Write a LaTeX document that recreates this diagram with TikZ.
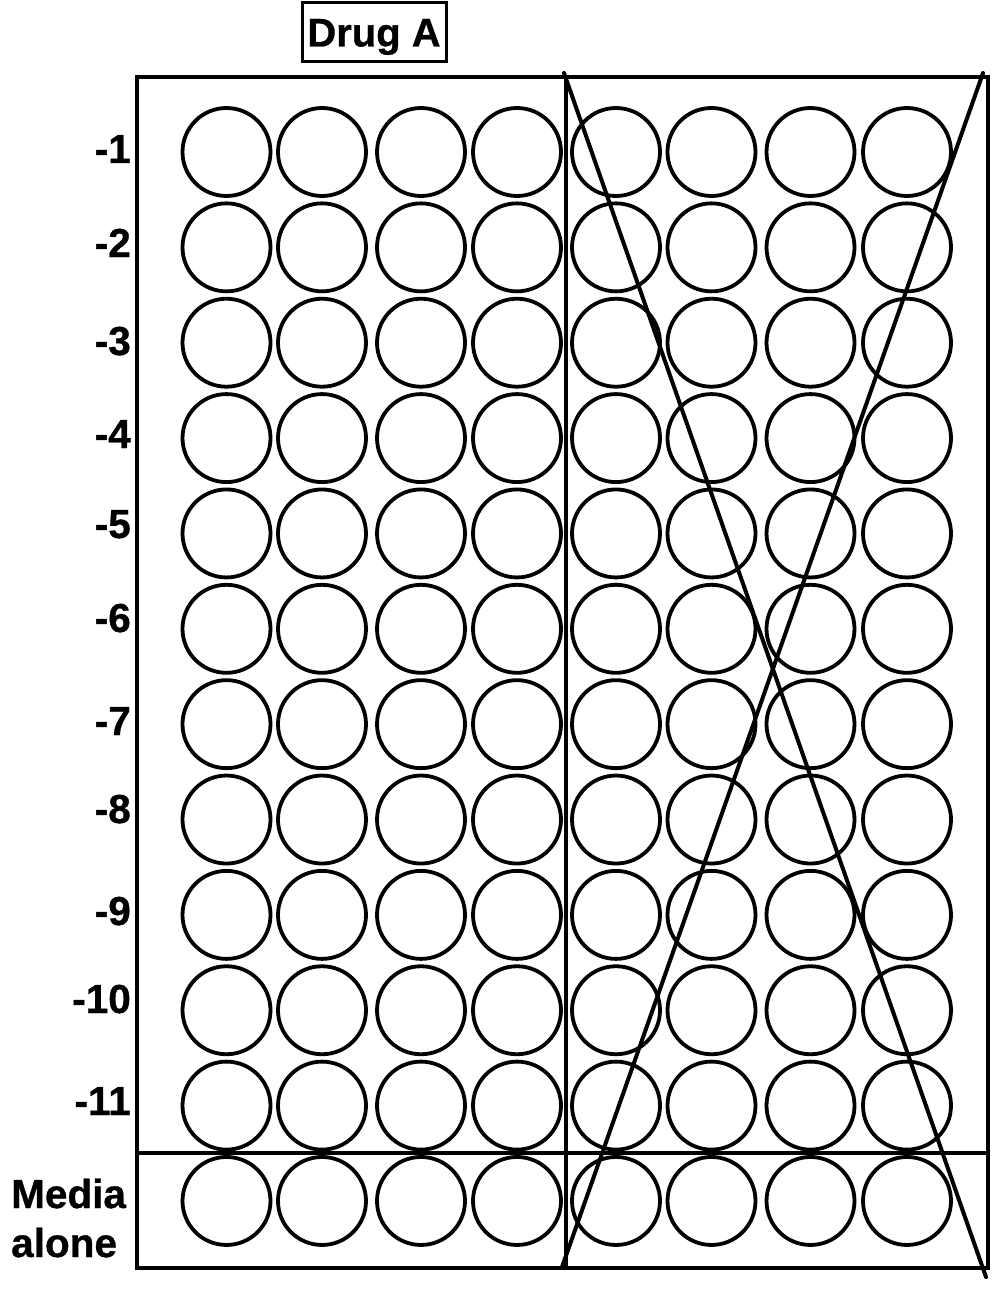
\documentclass[tikz,border=0pt]{standalone}
\usepackage{fontspec}
\setmainfont{Liberation Sans}[BoldFeatures={FakeBold=0.8}]
\begin{document}
\begin{tikzpicture}[x=1pt,y=-1pt,
  well/.style={circle,draw,line width=3.8pt,minimum size=88pt,inner sep=0pt},
  lbl/.style={font=\fontsize{40.5}{48}\selectfont\bfseries,inner sep=0pt,anchor=base east},
  frame/.style={line width=4pt},
  cross/.style={line width=4pt,line cap=round},
  titlebox/.style={draw,line width=3pt,minimum width=144pt,minimum height=59pt,inner sep=0pt,
    text height=28pt,text depth=0pt,font=\fontsize{40}{48}\selectfont\bfseries}]
\useasboundingbox (0,0) rectangle (1000,1289);

% plate outline and dividers
\coordinate (tl) at (137,77);
\coordinate (br) at (988,1268);
\coordinate (vtop) at (566,77);
\coordinate (vbot) at (566,1268);
\coordinate (hl) at (137,1153);
\coordinate (hr) at (988,1153);
\draw[frame] (tl) rectangle (br);
\draw[frame] (vtop) -- (vbot);
\draw[frame] (hl) -- (hr);

% wells
\foreach \cx [count=\c] in {226.5,322,421,517,616,711.5,810.5,907}{
  \foreach \r in {1,...,12}{
    \node[well] (w-\r-\c) at (\cx,{152+95.36*(\r-1)}) {};
  }
}

% cross-out lines
\coordinate (a1) at (564,73);
\coordinate (a2) at (986,1277);
\coordinate (b1) at (562,1267);
\coordinate (b2) at (983,73);
\draw[cross] (a1) -- (a2);
\draw[cross] (b1) -- (b2);

% title
\node[titlebox] (title) at (374,32.5) {Drug A};

% row labels
\node[lbl] (l1) at (131,163) {-1};
\node[lbl] (l2) at (131,257) {-2};
\node[lbl] (l3) at (131,355) {-3};
\node[lbl] (l4) at (131,448) {-4};
\node[lbl] (l5) at (131,538) {-5};
\node[lbl] (l6) at (131,632) {-6};
\node[lbl] (l7) at (131,735) {-7};
\node[lbl] (l8) at (131,823) {-8};
\node[lbl] (l9) at (131,925) {-9};
\node[lbl] (l10) at (131,1013) {-10};
\node[lbl] (l11) at (131,1115) {-11};
\node[lbl,anchor=base west] (media) at (11,1208) {Media};
\node[lbl,anchor=base west] (alone) at (11,1257) {alone};
\end{tikzpicture}
\end{document}
